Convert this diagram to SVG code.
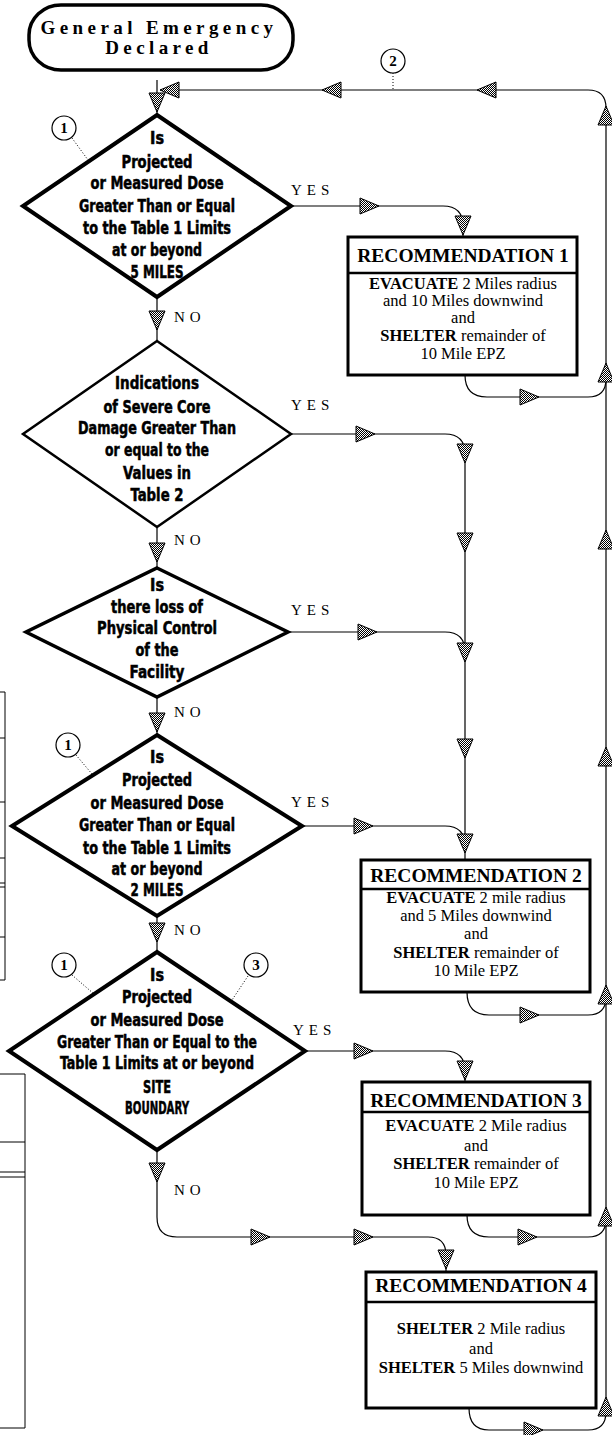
<svg xmlns="http://www.w3.org/2000/svg" xmlns:xlink="http://www.w3.org/1999/xlink" width="612" height="1435" viewBox="0 0 612 1435">
<style>
.conn{fill:none;stroke:#000;stroke-width:1.2}
.dot{fill:none;stroke:#000;stroke-width:1;stroke-dasharray:1 2}
.dia{fill:#fff;stroke:#000;stroke-linejoin:miter}
.dt{font-family:"Liberation Sans Narrow","DejaVu Sans Condensed",sans-serif;font-weight:bold;font-size:17px;text-anchor:middle;stroke:#000;stroke-width:0.5}
.box{fill:#fff;stroke:#000;stroke-width:3}
.div{stroke:#000;stroke-width:2.5}
.rh{font-family:"Liberation Serif",serif;font-weight:bold;font-size:19.5px;text-anchor:middle}
.rb{font-family:"Liberation Serif",serif;font-size:16.5px;text-anchor:middle}
.lbl{font-family:"Liberation Serif",serif;font-size:15px;letter-spacing:5px}
.ah{fill:url(#hatch);stroke:#000;stroke-width:1}
.cir{fill:#fff;stroke:#000;stroke-width:1.2}
.cn{font-family:"Liberation Serif",serif;font-weight:bold;font-size:15px;text-anchor:middle}
.tbl{fill:none;stroke:#000;stroke-width:1}
.term{fill:#fff;stroke:#000;stroke-width:3.5}
.tt{font-family:"Liberation Serif",serif;font-weight:bold;font-size:19px;letter-spacing:4.4px;text-anchor:middle}
</style>
<defs>
<pattern id="hatch" width="2" height="2" patternUnits="userSpaceOnUse">
<rect width="2" height="2" fill="#fff"/>
<rect width="1" height="1" fill="#000"/>
<rect x="1" y="1" width="1" height="1" fill="#000"/>
</pattern>
<polygon id="aD" class="ah" points="-8,-19 8,-19 0,0"/>
<polygon id="aU" class="ah" points="-8,19 8,19 0,0"/>
<polygon id="aR" class="ah" points="-19,-8 -19,8 0,0"/>
<polygon id="aL" class="ah" points="19,-8 19,8 0,0"/>
</defs>
<rect width="612" height="1435" fill="#fff"/>

<g id="tables">
<path class="tbl" d="M0,692 H5 V980 H0 M0,738 H5 M0,802 H5 M0,858 H5 M0,883 H5 M0,887 H5 M0,937 H5"/>
<path class="tbl" d="M0,1074 H25 V1428 H0 M0,1142 H25 M0,1172 H25 M0,1177 H25"/>
</g>

<g id="connectors">
<path class="conn" d="M157,80 V115"/>
<path class="conn" d="M606,1412 V108 Q606,90 588,90 H160"/>
<path class="dot" d="M393,73 V90"/>
<path class="conn" d="M291,206 H443 Q463,206 463,226 V237"/>
<path class="conn" d="M465,375 Q465,397 487,397 H588 Q606,397 606,379"/>
<path class="conn" d="M157,297 V341"/>
<path class="conn" d="M291,434 H445 Q465,434 465,454 V860"/>
<path class="conn" d="M157,527 V568"/>
<path class="conn" d="M288,632 H445 Q465,632 465,652"/>
<path class="conn" d="M157,697 V735"/>
<path class="conn" d="M302,826 H445 Q465,826 465,846"/>
<path class="conn" d="M467,992 Q467,1015 489,1015 H588 Q606,1015 606,997"/>
<path class="conn" d="M157,916 V952"/>
<path class="conn" d="M305,1051 H445 Q465,1051 465,1071 V1082"/>
<path class="conn" d="M467,1215 Q467,1237 489,1237 H588 Q606,1237 606,1219"/>
<path class="conn" d="M157,1150 V1217 Q157,1237 177,1237 H428 Q446,1237 446,1255 V1272"/>
<path class="conn" d="M469,1408 Q469,1430 489,1430 H588 Q606,1430 606,1412"/>
<path class="dot" d="M72,138 L88,160"/>
<path class="dot" d="M76,755 L92,774"/>
<path class="dot" d="M72,975 L94,994"/>
<path class="dot" d="M248,976 L232,1000"/>
<use xlink:href="#aL" x="160" y="90"/>
<use xlink:href="#aL" x="322" y="90"/>
<use xlink:href="#aL" x="477" y="90"/>
<use xlink:href="#aD" x="157" y="112"/>
<use xlink:href="#aU" x="606" y="106"/>
<use xlink:href="#aU" x="606" y="363"/>
<use xlink:href="#aU" x="606" y="530"/>
<use xlink:href="#aU" x="606" y="747"/>
<use xlink:href="#aU" x="606" y="985"/>
<use xlink:href="#aU" x="606" y="1207"/>
<use xlink:href="#aU" x="606" y="1397"/>
<use xlink:href="#aR" x="379" y="206"/>
<use xlink:href="#aD" x="463" y="235"/>
<use xlink:href="#aR" x="539" y="397"/>
<use xlink:href="#aD" x="157" y="330"/>
<use xlink:href="#aR" x="375" y="434"/>
<use xlink:href="#aD" x="465" y="463"/>
<use xlink:href="#aD" x="465" y="552"/>
<use xlink:href="#aD" x="157" y="562"/>
<use xlink:href="#aR" x="377" y="632"/>
<use xlink:href="#aD" x="465" y="662"/>
<use xlink:href="#aD" x="157" y="732"/>
<use xlink:href="#aD" x="465" y="758"/>
<use xlink:href="#aR" x="373" y="826"/>
<use xlink:href="#aD" x="465" y="853"/>
<use xlink:href="#aR" x="539" y="1015"/>
<use xlink:href="#aD" x="157" y="942"/>
<use xlink:href="#aR" x="373" y="1051"/>
<use xlink:href="#aD" x="465" y="1080"/>
<use xlink:href="#aR" x="537" y="1237"/>
<use xlink:href="#aD" x="157" y="1182"/>
<use xlink:href="#aR" x="270" y="1237"/>
<use xlink:href="#aR" x="373" y="1237"/>
<use xlink:href="#aD" x="446" y="1269"/>
<use xlink:href="#aR" x="543" y="1430"/>
<text class="lbl" x="291" y="195">YES</text>
<text class="lbl" x="174" y="322">NO</text>
<text class="lbl" x="291" y="410">YES</text>
<text class="lbl" x="174" y="545">NO</text>
<text class="lbl" x="291" y="615">YES</text>
<text class="lbl" x="174" y="717">NO</text>
<text class="lbl" x="291" y="807">YES</text>
<text class="lbl" x="174" y="935">NO</text>
<text class="lbl" x="293" y="1035">YES</text>
<text class="lbl" x="174" y="1195">NO</text>
</g>

<g id="start">
<rect class="term" x="29" y="5" width="264" height="65" rx="32" ry="30"/>
<text class="tt" x="159" y="34">General Emergency</text>
<text class="tt" x="159" y="54">Declared</text>
</g>

<g id="ref2">
<circle class="cir" cx="393" cy="61" r="12"/>
<text class="cn" x="393" y="66">2</text>
</g>

<g id="decision1">
<polygon class="dia" stroke-width="4" points="157,115 291,206 157,297 23,206"/>
<text class="dt" x="157" y="144" textLength="14" lengthAdjust="spacingAndGlyphs">Is</text>
<text class="dt" x="157" y="168" textLength="71" lengthAdjust="spacingAndGlyphs">Projected</text>
<text class="dt" x="157" y="189" textLength="133" lengthAdjust="spacingAndGlyphs">or Measured Dose</text>
<text class="dt" x="157" y="212" textLength="156" lengthAdjust="spacingAndGlyphs">Greater Than or Equal</text>
<text class="dt" x="157" y="234" textLength="148" lengthAdjust="spacingAndGlyphs">to the Table 1 Limits</text>
<text class="dt" x="157" y="256" textLength="90" lengthAdjust="spacingAndGlyphs">at or beyond</text>
<text class="dt" x="157" y="278" textLength="53" lengthAdjust="spacingAndGlyphs">5 MILES</text>
<circle class="cir" cx="64" cy="128" r="12"/>
<text class="cn" x="64" y="133">1</text>
</g>

<g id="rec1">
<rect class="box" x="348" y="237" width="229" height="138"/>
<line class="div" x1="348" y1="273" x2="577" y2="273"/>
<text class="rh" x="463" y="262">RECOMMENDATION 1</text>
<text class="rb" x="463" y="288.5"><tspan font-weight="bold">EVACUATE</tspan> 2 Miles radius</text>
<text class="rb" x="463" y="305.5">and 10 Miles downwind</text>
<text class="rb" x="463" y="322.5">and</text>
<text class="rb" x="463" y="340.5"><tspan font-weight="bold">SHELTER</tspan> remainder of</text>
<text class="rb" x="463" y="358.5">10 Mile EPZ</text>
</g>

<g id="decision2">
<polygon class="dia" stroke-width="2.5" points="157,341 291,434 157,527 23,434"/>
<text class="dt" x="157" y="389" textLength="84" lengthAdjust="spacingAndGlyphs">Indications</text>
<text class="dt" x="157" y="413" textLength="107" lengthAdjust="spacingAndGlyphs">of Severe Core</text>
<text class="dt" x="157" y="434" textLength="158" lengthAdjust="spacingAndGlyphs">Damage Greater Than</text>
<text class="dt" x="157" y="456" textLength="104" lengthAdjust="spacingAndGlyphs">or equal to the</text>
<text class="dt" x="157" y="479" textLength="68" lengthAdjust="spacingAndGlyphs">Values in</text>
<text class="dt" x="157" y="501" textLength="53" lengthAdjust="spacingAndGlyphs">Table 2</text>
</g>

<g id="decision3">
<polygon class="dia" stroke-width="3.5" points="157,568 288,632 157,697 26,632"/>
<text class="dt" x="157" y="591" textLength="14" lengthAdjust="spacingAndGlyphs">Is</text>
<text class="dt" x="157" y="613" textLength="92" lengthAdjust="spacingAndGlyphs">there loss of</text>
<text class="dt" x="157" y="634" textLength="120" lengthAdjust="spacingAndGlyphs">Physical Control</text>
<text class="dt" x="157" y="656" textLength="43" lengthAdjust="spacingAndGlyphs">of the</text>
<text class="dt" x="157" y="678" textLength="55" lengthAdjust="spacingAndGlyphs">Facility</text>
</g>

<g id="decision4">
<polygon class="dia" stroke-width="4" points="157,735 302,826 157,916 12,826"/>
<text class="dt" x="157" y="763" textLength="14" lengthAdjust="spacingAndGlyphs">Is</text>
<text class="dt" x="157" y="786" textLength="70" lengthAdjust="spacingAndGlyphs">Projected</text>
<text class="dt" x="157" y="809" textLength="133" lengthAdjust="spacingAndGlyphs">or Measured Dose</text>
<text class="dt" x="157" y="831" textLength="156" lengthAdjust="spacingAndGlyphs">Greater Than or Equal</text>
<text class="dt" x="157" y="854" textLength="148" lengthAdjust="spacingAndGlyphs">to the Table 1 Limits</text>
<text class="dt" x="157" y="875" textLength="91" lengthAdjust="spacingAndGlyphs">at or beyond</text>
<text class="dt" x="157" y="896" textLength="53" lengthAdjust="spacingAndGlyphs">2 MILES</text>
<circle class="cir" cx="68" cy="745" r="12"/>
<text class="cn" x="68" y="750">1</text>
</g>

<g id="rec2">
<rect class="box" x="361" y="860" width="229" height="132"/>
<line class="div" x1="361" y1="889" x2="590" y2="889"/>
<text class="rh" x="476" y="881.5">RECOMMENDATION 2</text>
<text class="rb" x="476" y="902.5"><tspan font-weight="bold">EVACUATE</tspan> 2 mile radius</text>
<text class="rb" x="476" y="920.5">and 5 Miles downwind</text>
<text class="rb" x="476" y="938.5">and</text>
<text class="rb" x="476" y="957.5"><tspan font-weight="bold">SHELTER</tspan> remainder of</text>
<text class="rb" x="476" y="975.5">10 Mile EPZ</text>
</g>

<g id="decision5">
<polygon class="dia" stroke-width="4" points="157,952 305,1051 157,1150 9,1051"/>
<text class="dt" x="157" y="981" textLength="14" lengthAdjust="spacingAndGlyphs">Is</text>
<text class="dt" x="157" y="1003" textLength="70" lengthAdjust="spacingAndGlyphs">Projected</text>
<text class="dt" x="157" y="1026" textLength="133" lengthAdjust="spacingAndGlyphs">or Measured Dose</text>
<text class="dt" x="157" y="1048" textLength="200" lengthAdjust="spacingAndGlyphs">Greater Than or Equal to the</text>
<text class="dt" x="157" y="1069" textLength="194" lengthAdjust="spacingAndGlyphs">Table 1 Limits at or beyond</text>
<text class="dt" x="157" y="1093" textLength="28" lengthAdjust="spacingAndGlyphs">SITE</text>
<text class="dt" x="157" y="1114" textLength="64" lengthAdjust="spacingAndGlyphs">BOUNDARY</text>
<circle class="cir" cx="64" cy="965" r="12"/>
<text class="cn" x="64" y="970">1</text>
<circle class="cir" cx="256" cy="965" r="12"/>
<text class="cn" x="256" y="970" font-weight="normal" font-size="13">3</text>
</g>

<g id="rec3">
<rect class="box" x="362" y="1082" width="228" height="133"/>
<line class="div" x1="362" y1="1112" x2="590" y2="1112"/>
<text class="rh" x="476" y="1106.5">RECOMMENDATION 3</text>
<text class="rb" x="476" y="1130.5"><tspan font-weight="bold">EVACUATE</tspan> 2 Mile radius</text>
<text class="rb" x="476" y="1150.5">and</text>
<text class="rb" x="476" y="1168.5"><tspan font-weight="bold">SHELTER</tspan> remainder of</text>
<text class="rb" x="476" y="1187.5">10 Mile EPZ</text>
</g>

<g id="rec4">
<rect class="box" x="366" y="1272" width="230" height="136"/>
<line class="div" x1="366" y1="1302" x2="596" y2="1302"/>
<text class="rh" x="481" y="1291.5">RECOMMENDATION 4</text>
<text class="rb" x="481" y="1333.5"><tspan font-weight="bold">SHELTER</tspan> 2 Mile radius</text>
<text class="rb" x="481" y="1353.5">and</text>
<text class="rb" x="481" y="1372.5"><tspan font-weight="bold">SHELTER</tspan> 5 Miles downwind</text>
</g>
</svg>
